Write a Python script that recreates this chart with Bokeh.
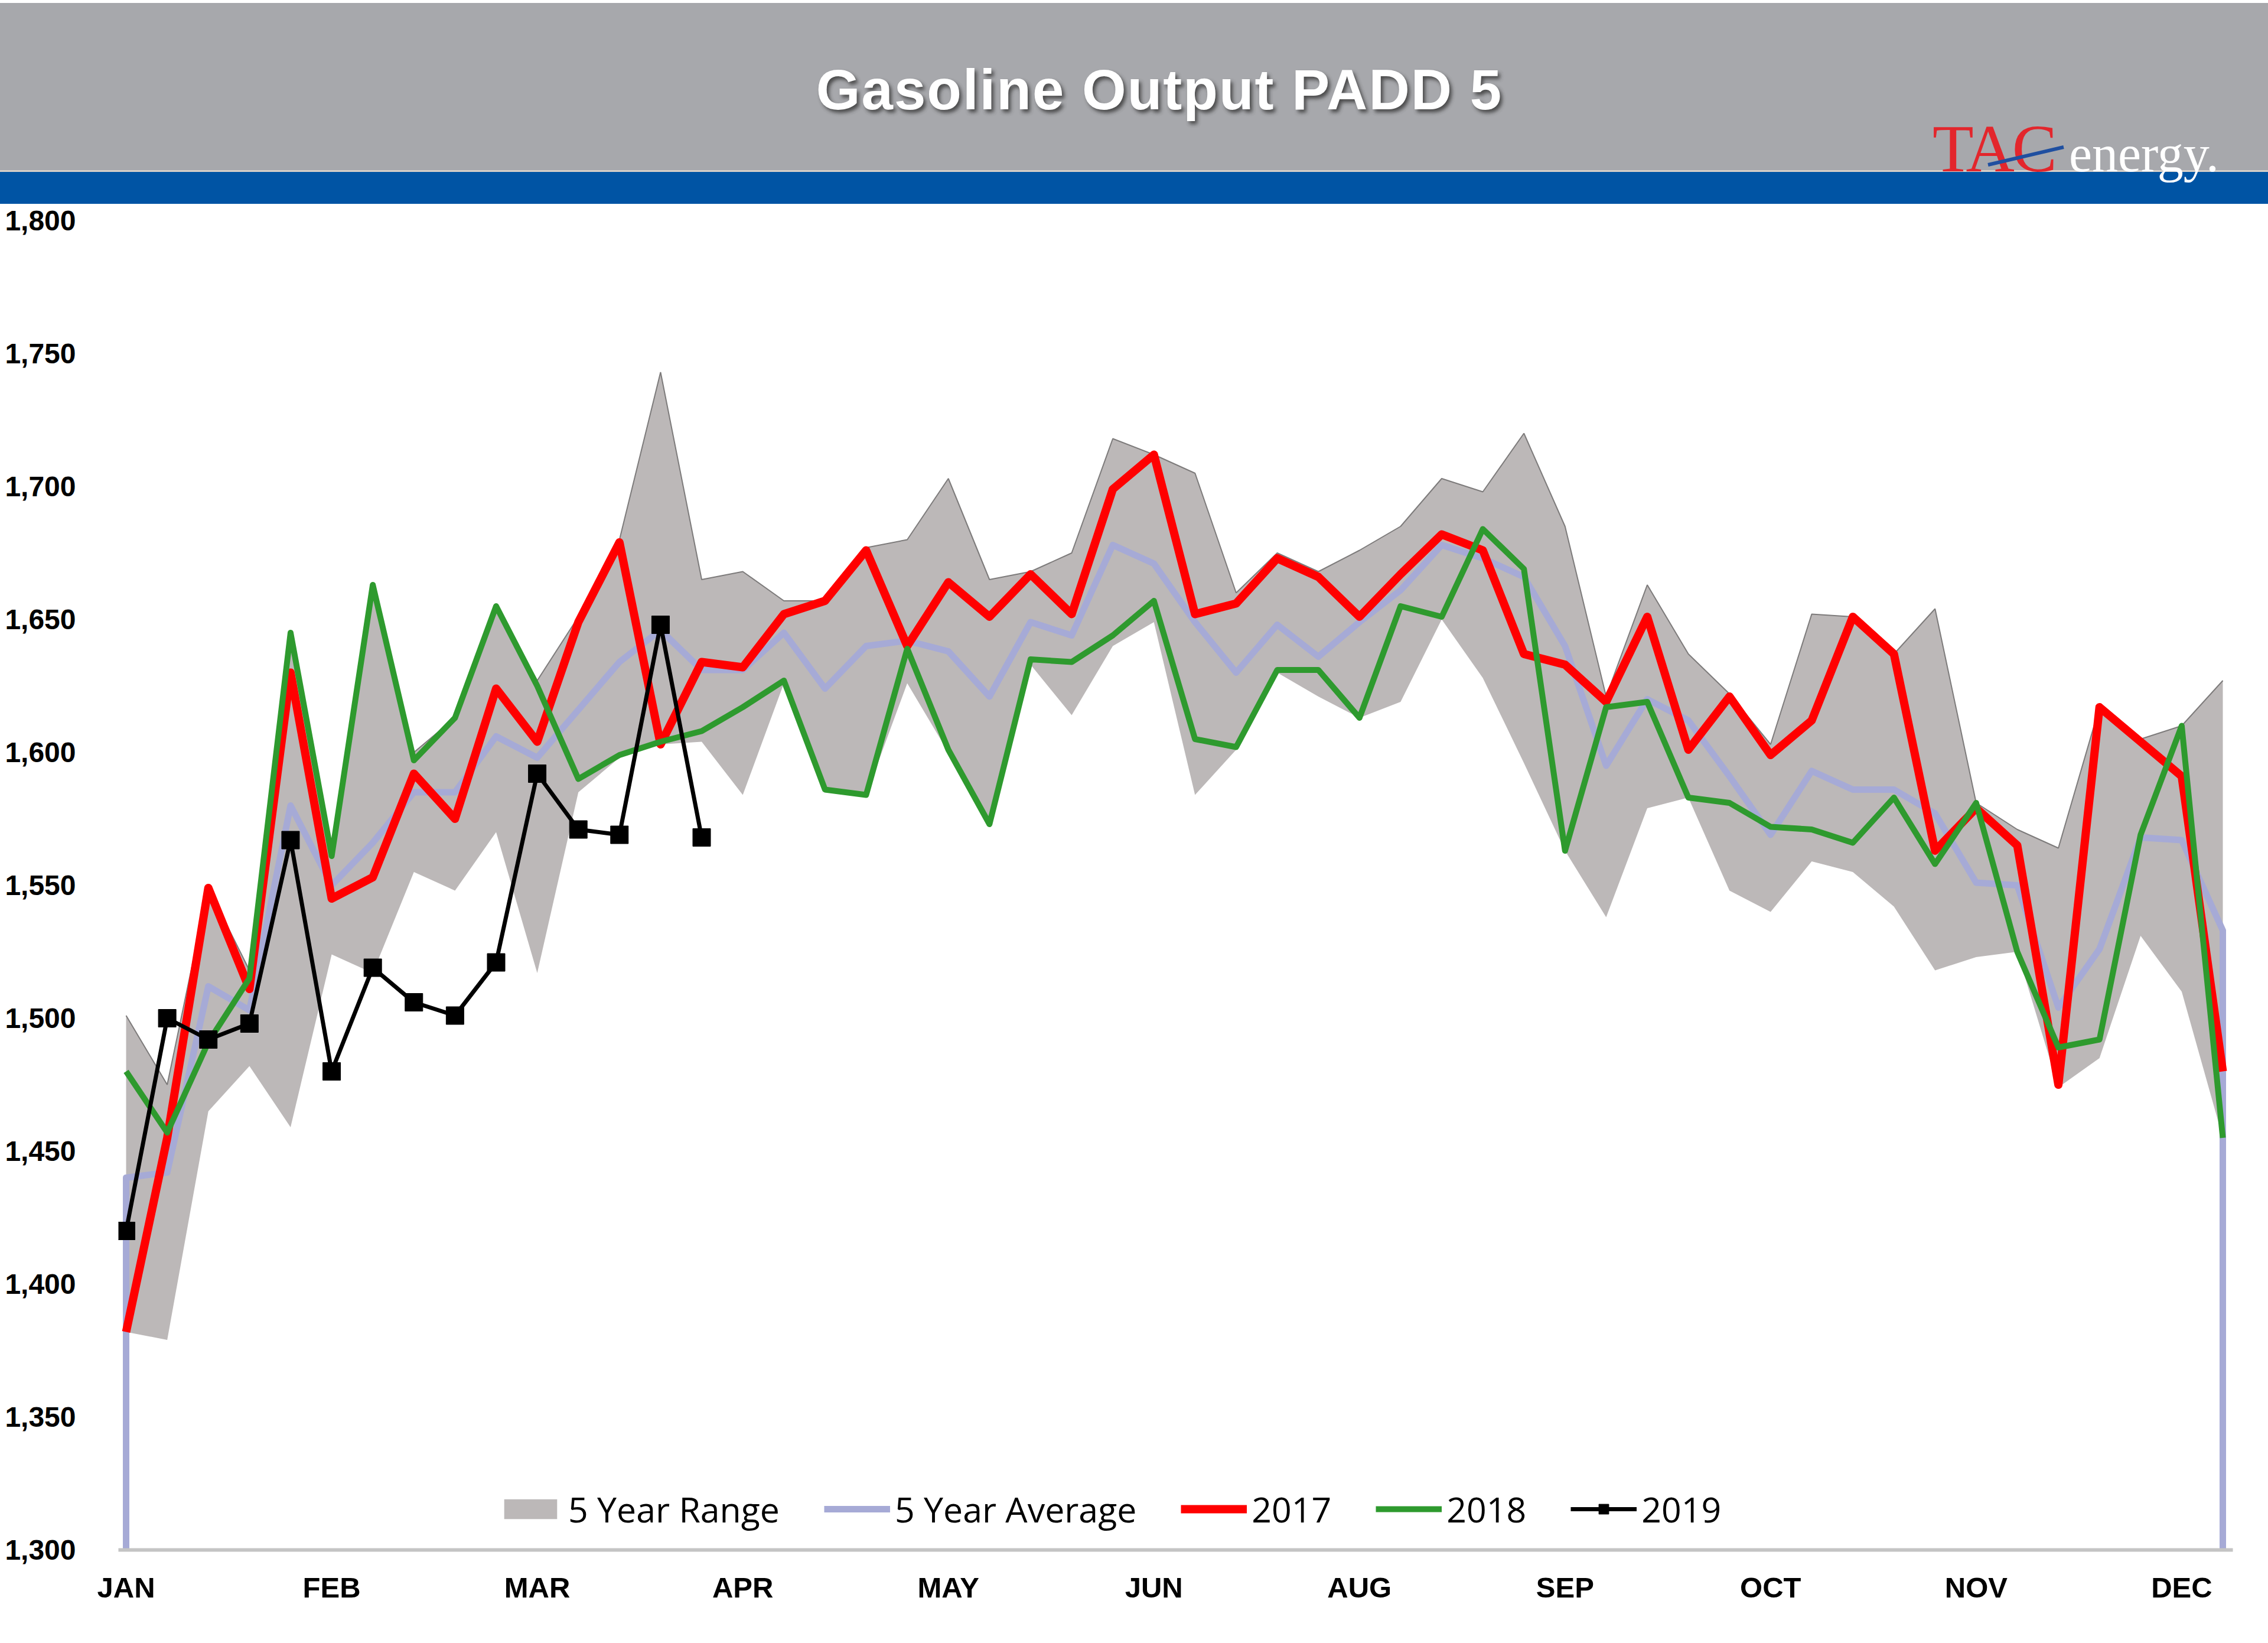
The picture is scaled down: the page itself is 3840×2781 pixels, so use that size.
from bokeh.plotting import figure
from bokeh.layouts import column
from bokeh.models import Range1d, FixedTicker, NumeralTickFormatter, Legend, LegendItem, Div
from bokeh.embed import file_html
from bokeh.resources import INLINE

# ---------------- data ----------------
TITLE = "Gasoline Output PADD 5"
LOGO_RED = "TAC"
LOGO_WHITE = "energy."
MONTH_TICKS = [0, 5, 10, 15, 20, 25, 30, 35, 40, 45, 50]
MONTH_LABELS = ["JAN", "FEB", "MAR", "APR", "MAY", "JUN", "AUG", "SEP", "OCT", "NOV", "DEC"]
Y_MIN, Y_MAX = 1300, 1800
Y_TICKS = list(range(1300, 1801, 50))

weeks = list(range(52))

range_upper = [1501, 1475, 1549, 1518, 1645, 1561, 1663, 1600, 1613, 1655,
               1627, 1651, 1680, 1743, 1665, 1668, 1657, 1657, 1677, 1680,
               1703, 1665, 1668, 1675, 1718, 1712, 1705, 1660, 1675, 1668,
               1676, 1685, 1703, 1698, 1720, 1685, 1621, 1663, 1637, 1622,
               1603, 1652, 1651, 1637, 1654, 1581, 1571, 1564, 1617, 1605,
               1610, 1627]
range_lower = [1382, 1379, 1465, 1482, 1459, 1524, 1517, 1555, 1548, 1570,
               1517, 1585, 1598, 1603, 1604, 1584, 1626, 1586, 1584, 1626,
               1600, 1573, 1633, 1614, 1640, 1649, 1584, 1601, 1630, 1621,
               1613, 1619, 1650, 1628, 1596, 1563, 1538, 1579, 1583, 1548,
               1540, 1559, 1555, 1542, 1518, 1523, 1525, 1474, 1485, 1531,
               1510, 1455]
avg5 = [1440, 1442, 1512, 1503, 1580, 1550, 1566, 1585, 1585, 1606,
        1598, 1616, 1634, 1646, 1631, 1631, 1645, 1624, 1640, 1642,
        1638, 1621, 1649, 1644, 1678, 1671, 1649, 1630, 1648, 1636,
        1649, 1661, 1678, 1673, 1666, 1640, 1595, 1620, 1612, 1591,
        1569, 1593, 1586, 1586, 1577, 1551, 1550, 1504, 1526, 1568,
        1567, 1533]
y2017 = [1382, 1455, 1549, 1511, 1630, 1545, 1553, 1592, 1575, 1624,
         1604, 1649, 1679, 1603, 1634, 1632, 1652, 1657, 1676, 1640,
         1664, 1651, 1667, 1652, 1699, 1712, 1652, 1656, 1673, 1666,
         1651, 1667, 1682, 1676, 1637, 1633, 1619, 1651, 1601, 1621,
         1599, 1612, 1651, 1637, 1563, 1579, 1565, 1475, 1617, 1604,
         1591, 1480]
y2018 = [1480, 1457, 1491, 1515, 1645, 1561, 1663, 1597, 1613, 1655,
         1625, 1590, 1599, 1604, 1608, 1617, 1627, 1586, 1584, 1639,
         1601, 1573, 1635, 1634, 1644, 1657, 1605, 1602, 1631, 1631,
         1613, 1655, 1651, 1684, 1669, 1563, 1617, 1619, 1583, 1581,
         1572, 1571, 1566, 1583, 1558, 1581, 1525, 1489, 1492, 1569,
         1610, 1455]
y2019 = [1420, 1500, 1492, 1498, 1567, 1480, 1519, 1506, 1501, 1521,
         1592, 1571, 1569, 1648, 1568]
weeks2019 = weeks[:len(y2019)]

# ---------------- header (banner) ----------------
W = 3840
H_TOTAL = 2781
HEAD_H = 345

SANS = "font-family:'Liberation Sans',Arial,sans-serif;font-weight:bold;font-size:96px;letter-spacing:2px;"
SERIF = "font-family:'Liberation Serif','Times New Roman',serif;font-weight:normal;"

header_html = f"""
<svg xmlns="http://www.w3.org/2000/svg" width="{W}" height="{HEAD_H}" style="display:block">
  <defs>
    <filter id="sh" x="-5%" y="-30%" width="110%" height="160%">
      <feGaussianBlur stdDeviation="3"/>
    </filter>
  </defs>
  <rect x="0" y="0" width="{W}" height="{HEAD_H}" fill="white"/>
  <rect x="0" y="5" width="{W}" height="285" fill="#a7a8ac"/>
  <rect x="0" y="290" width="{W}" height="{HEAD_H - 290}" fill="#0054a4"/>
  <rect x="0" y="288" width="{W}" height="3" fill="#d6cfc8"/>
  <text x="1967" y="190" text-anchor="middle" style="{SANS}fill:#3a3a3a;opacity:0.85"
        filter="url(#sh)">{TITLE}</text>
  <text x="1963" y="185" text-anchor="middle" style="{SANS}fill:#ffffff">{TITLE}</text>
  <text x="3272" y="290" style="{SERIF}font-size:114px;letter-spacing:-4px;fill:#e3262c">{LOGO_RED}</text>
  <text x="3503" y="290" style="{SERIF}font-size:88px;fill:#ffffff">{LOGO_WHITE}</text>
  <line x1="3366" y1="279" x2="3494" y2="249" stroke="#1f4fa0" stroke-width="6"/>
</svg>
"""
header = Div(text=header_html, width=W, height=HEAD_H, margin=(0, 0, 0, 0))

# ---------------- main chart ----------------
MAIN_H = H_TOTAL - HEAD_H
p = figure(width=W, height=MAIN_H, x_range=Range1d(-0.187, 51.244), y_range=Range1d(Y_MIN, Y_MAX),
           toolbar_location=None, output_backend="svg",
           min_border_left=200, min_border_right=60, min_border_top=28, min_border_bottom=158)
p.grid.visible = False
p.outline_line_color = None
p.background_fill_color = "white"
p.border_fill_color = "white"

rng = p.varea(x=weeks, y1=range_lower, y2=range_upper, fill_color="#bcb8b8")
p.line(weeks, range_upper, line_color="#7d7b7b", line_width=2)

avg_x = [weeks[0]] + weeks + [weeks[-1]]
avg_y = [Y_MIN] + avg5 + [Y_MIN]
avg_r = p.line(avg_x, avg_y, line_color="#a6aad6", line_width=11, line_join="round")
r17 = p.line(weeks, y2017, line_color="#ff0000", line_width=14, line_join="round")
r18 = p.line(weeks, y2018, line_color="#2e9a2e", line_width=10, line_join="round")
r19 = p.line(weeks2019, y2019, line_color="black", line_width=7, line_join="round")
s19 = p.scatter(weeks2019, y2019, marker="square", size=30, fill_color="black", line_color="black")

p.yaxis.ticker = FixedTicker(ticks=Y_TICKS)
p.yaxis.formatter = NumeralTickFormatter(format="0,0")
p.yaxis.axis_line_color = None
p.yaxis.major_tick_line_color = None
p.yaxis.minor_tick_line_color = None
p.yaxis.major_label_standoff = 66
p.yaxis.major_label_text_font = "Liberation Sans"
p.yaxis.major_label_text_font_style = "bold"
p.yaxis.major_label_text_font_size = "48px"
p.yaxis.major_label_text_color = "black"

p.xaxis.ticker = FixedTicker(ticks=MONTH_TICKS)
p.xaxis.major_label_overrides = {t: l for t, l in zip(MONTH_TICKS, MONTH_LABELS)}
p.xaxis.axis_line_color = "#c4c4c4"
p.xaxis.axis_line_width = 6
p.xaxis.major_tick_line_color = None
p.xaxis.minor_tick_line_color = None
p.xaxis.major_label_standoff = 30
p.xaxis.major_label_text_font = "Liberation Sans"
p.xaxis.major_label_text_font_style = "bold"
p.xaxis.major_label_text_font_size = "49px"
p.xaxis.major_label_text_color = "black"

legend = Legend(items=[
    LegendItem(label="5 Year Range", renderers=[rng]),
    LegendItem(label="5 Year Average", renderers=[avg_r]),
    LegendItem(label="2017", renderers=[r17]),
    LegendItem(label="2018", renderers=[r18]),
    LegendItem(label="2019", renderers=[r19, s19]),
], location=(642, 29), orientation="horizontal")
legend.background_fill_alpha = 0
legend.border_line_color = None
legend.padding = 0
legend.margin = 0
legend.spacing = 75
legend.glyph_width = 112
legend.glyph_height = 42
legend.label_standoff = 8
legend.label_text_font = "Open Sans"
legend.label_text_font_size = "59px"
legend.label_text_color = "black"
p.add_layout(legend, "center")

layout = column(header, p, spacing=0)
open("out.html", "w").write(file_html(layout, INLINE))
